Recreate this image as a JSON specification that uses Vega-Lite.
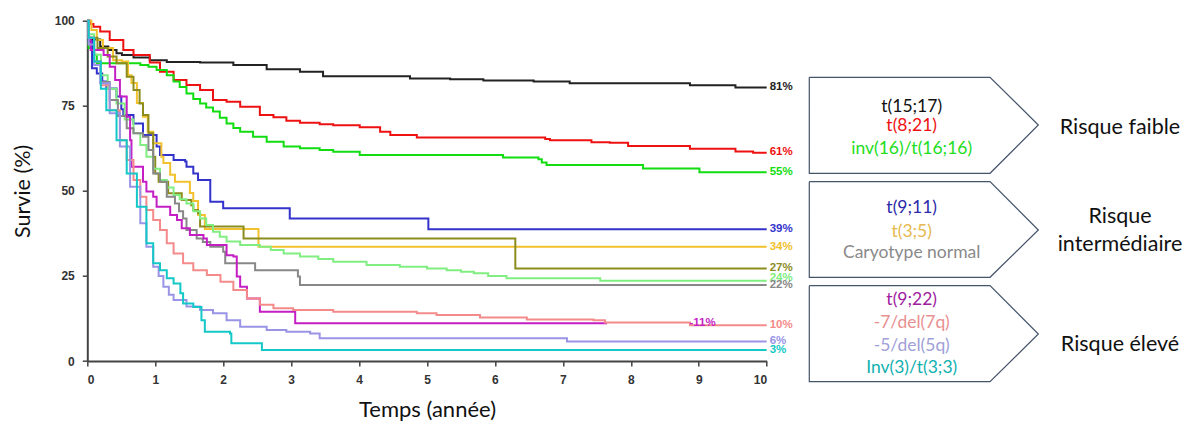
{
  "$schema": "https://vega.github.io/schema/vega-lite/v6.json",
  "width": 679.4,
  "height": 340.3,
  "autosize": "none",
  "padding": {"left": 87.3, "top": 20.7, "right": 425.3, "bottom": 62},
  "background": "white",
  "config": {"view": {"stroke": null}},
  "datasets": {
    "km": [
      {"g":"c1","t":0,"s":100},{"g":"c1","t":0.01,"s":94.5},{"g":"c1","t":0.19,"s":92.4},{"g":"c1","t":0.31,"s":91.4},{"g":"c1","t":0.43,"s":90.4},{"g":"c1","t":0.51,"s":89.9},{"g":"c1","t":0.68,"s":89.2},{"g":"c1","t":0.92,"s":88.4},{"g":"c1","t":1.17,"s":87.9},{"g":"c1","t":1.66,"s":87.7},{"g":"c1","t":2.15,"s":87.0},{"g":"c1","t":2.64,"s":85.7},{"g":"c1","t":3.13,"s":85.0},{"g":"c1","t":3.47,"s":83.7},{"g":"c1","t":4.75,"s":83.0},{"g":"c1","t":5.34,"s":82.8},{"g":"c1","t":5.83,"s":82.4},{"g":"c1","t":6.57,"s":82.1},{"g":"c1","t":7.1,"s":81.6},{"g":"c1","t":8.87,"s":81.0},{"g":"c1","t":9.54,"s":80.4},{"g":"c1","t":10,"s":80.4},
      {"g":"c2","t":0,"s":100},{"g":"c2","t":0.05,"s":99},{"g":"c2","t":0.09,"s":98.2},{"g":"c2","t":0.19,"s":96.8},{"g":"c2","t":0.33,"s":94.3},{"g":"c2","t":0.53,"s":91.4},{"g":"c2","t":0.68,"s":89.9},{"g":"c2","t":0.92,"s":87.7},{"g":"c2","t":1.07,"s":85.0},{"g":"c2","t":1.27,"s":82.6},{"g":"c2","t":1.46,"s":81.1},{"g":"c2","t":1.66,"s":79.6},{"g":"c2","t":1.85,"s":76.7},{"g":"c2","t":2.05,"s":76.2},{"g":"c2","t":2.25,"s":74.7},{"g":"c2","t":2.54,"s":72.3},{"g":"c2","t":2.74,"s":71.6},{"g":"c2","t":2.93,"s":70.6},{"g":"c2","t":3.13,"s":70.0},{"g":"c2","t":3.42,"s":69.6},{"g":"c2","t":3.62,"s":69.3},{"g":"c2","t":4.01,"s":68.7},{"g":"c2","t":4.31,"s":67.4},{"g":"c2","t":4.46,"s":66.4},{"g":"c2","t":4.85,"s":65.7},{"g":"c2","t":6.74,"s":65.2},{"g":"c2","t":6.81,"s":64.9},{"g":"c2","t":7.42,"s":64.3},{"g":"c2","t":7.69,"s":64.1},{"g":"c2","t":7.96,"s":63.2},{"g":"c2","t":8.87,"s":62.4},{"g":"c2","t":9.54,"s":61.6},{"g":"c2","t":9.8,"s":61.2},{"g":"c2","t":10,"s":61.2},
      {"g":"c3","t":0,"s":100},{"g":"c3","t":0.02,"s":92},{"g":"c3","t":0.1,"s":90},{"g":"c3","t":0.14,"s":87.5},{"g":"c3","t":0.78,"s":87},{"g":"c3","t":0.9,"s":86.5},{"g":"c3","t":1.02,"s":85.5},{"g":"c3","t":1.17,"s":84.0},{"g":"c3","t":1.27,"s":82.1},{"g":"c3","t":1.36,"s":80.5},{"g":"c3","t":1.46,"s":78.6},{"g":"c3","t":1.56,"s":77},{"g":"c3","t":1.66,"s":75.7},{"g":"c3","t":1.75,"s":74.5},{"g":"c3","t":1.85,"s":73.3},{"g":"c3","t":1.95,"s":71.5},{"g":"c3","t":2.05,"s":69.8},{"g":"c3","t":2.15,"s":68.5},{"g":"c3","t":2.25,"s":67.4},{"g":"c3","t":2.44,"s":65.9},{"g":"c3","t":2.64,"s":64.4},{"g":"c3","t":2.89,"s":63.0},{"g":"c3","t":3.13,"s":62.5},{"g":"c3","t":3.42,"s":62.0},{"g":"c3","t":3.62,"s":61.5},{"g":"c3","t":4.01,"s":60.5},{"g":"c3","t":6.12,"s":59.8},{"g":"c3","t":6.64,"s":59.3},{"g":"c3","t":6.69,"s":58.3},{"g":"c3","t":6.76,"s":57.6},{"g":"c3","t":8.18,"s":56.6},{"g":"c3","t":9.01,"s":55.5},{"g":"c3","t":10,"s":55.5},
      {"g":"c4","t":0,"s":100},{"g":"c4","t":0.02,"s":94},{"g":"c4","t":0.07,"s":86},{"g":"c4","t":0.14,"s":84.5},{"g":"c4","t":0.22,"s":82.1},{"g":"c4","t":0.28,"s":80.1},{"g":"c4","t":0.43,"s":77.7},{"g":"c4","t":0.5,"s":74},{"g":"c4","t":0.53,"s":72.3},{"g":"c4","t":0.68,"s":69.8},{"g":"c4","t":0.82,"s":66.4},{"g":"c4","t":1.02,"s":63.0},{"g":"c4","t":1.07,"s":60.5},{"g":"c4","t":1.27,"s":59.1},{"g":"c4","t":1.44,"s":58.6},{"g":"c4","t":1.46,"s":57.1},{"g":"c4","t":1.56,"s":55.1},{"g":"c4","t":1.63,"s":53.2},{"g":"c4","t":1.81,"s":46.8},{"g":"c4","t":2.0,"s":44.9},{"g":"c4","t":2.98,"s":41.9},{"g":"c4","t":5.02,"s":38.7},{"g":"c4","t":10,"s":38.7},
      {"g":"c5","t":0,"s":100},{"g":"c5","t":0.06,"s":97.3},{"g":"c5","t":0.14,"s":94.3},{"g":"c5","t":0.23,"s":92},{"g":"c5","t":0.38,"s":88.4},{"g":"c5","t":0.51,"s":88},{"g":"c5","t":0.6,"s":84},{"g":"c5","t":0.65,"s":81.7},{"g":"c5","t":0.73,"s":75.8},{"g":"c5","t":0.82,"s":71.8},{"g":"c5","t":0.89,"s":67.4},{"g":"c5","t":0.97,"s":64},{"g":"c5","t":1.09,"s":60},{"g":"c5","t":1.12,"s":58.2},{"g":"c5","t":1.22,"s":54.7},{"g":"c5","t":1.29,"s":52.7},{"g":"c5","t":1.51,"s":49.4},{"g":"c5","t":1.56,"s":47},{"g":"c5","t":1.63,"s":42.9},{"g":"c5","t":1.73,"s":38.8},{"g":"c5","t":2.52,"s":33.6},{"g":"c5","t":10,"s":33.6},
      {"g":"c6","t":0,"s":100},{"g":"c6","t":0.02,"s":95},{"g":"c6","t":0.15,"s":92},{"g":"c6","t":0.3,"s":89.5},{"g":"c6","t":0.43,"s":87.5},{"g":"c6","t":0.58,"s":83.5},{"g":"c6","t":0.68,"s":79.6},{"g":"c6","t":0.77,"s":75.7},{"g":"c6","t":0.82,"s":72.3},{"g":"c6","t":0.9,"s":66.9},{"g":"c6","t":0.97,"s":60.0},{"g":"c6","t":1.0,"s":55.1},{"g":"c6","t":1.05,"s":52.7},{"g":"c6","t":1.19,"s":49.3},{"g":"c6","t":1.39,"s":47.3},{"g":"c6","t":1.53,"s":45.8},{"g":"c6","t":1.56,"s":44.4},{"g":"c6","t":1.63,"s":43.4},{"g":"c6","t":1.66,"s":39.5},{"g":"c6","t":2.3,"s":36.0},{"g":"c6","t":6.3,"s":27.2},{"g":"c6","t":10,"s":27.2},
      {"g":"c7","t":0,"s":100},{"g":"c7","t":0.02,"s":96},{"g":"c7","t":0.1,"s":90},{"g":"c7","t":0.2,"s":84},{"g":"c7","t":0.3,"s":80},{"g":"c7","t":0.43,"s":75.7},{"g":"c7","t":0.55,"s":71},{"g":"c7","t":0.68,"s":66.9},{"g":"c7","t":0.78,"s":63.5},{"g":"c7","t":0.87,"s":60.0},{"g":"c7","t":0.97,"s":56.5},{"g":"c7","t":1.07,"s":53.2},{"g":"c7","t":1.17,"s":51},{"g":"c7","t":1.27,"s":48.8},{"g":"c7","t":1.36,"s":47.5},{"g":"c7","t":1.46,"s":46.3},{"g":"c7","t":1.56,"s":44},{"g":"c7","t":1.66,"s":41.9},{"g":"c7","t":1.75,"s":40},{"g":"c7","t":1.85,"s":38.0},{"g":"c7","t":1.95,"s":36.5},{"g":"c7","t":2.05,"s":35.1},{"g":"c7","t":2.25,"s":34.1},{"g":"c7","t":2.54,"s":33.6},{"g":"c7","t":2.7,"s":32.6},{"g":"c7","t":2.89,"s":31.6},{"g":"c7","t":3.13,"s":30.7},{"g":"c7","t":3.4,"s":30},{"g":"c7","t":3.62,"s":29.2},{"g":"c7","t":4.11,"s":28.2},{"g":"c7","t":4.6,"s":27.7},{"g":"c7","t":5.0,"s":27.2},{"g":"c7","t":5.29,"s":26.7},{"g":"c7","t":5.5,"s":26.2},{"g":"c7","t":5.69,"s":25.8},{"g":"c7","t":5.9,"s":25},{"g":"c7","t":6.17,"s":24.3},{"g":"c7","t":7.55,"s":23.6},{"g":"c7","t":10,"s":23.6},
      {"g":"c8","t":0,"s":100},{"g":"c8","t":0.02,"s":95},{"g":"c8","t":0.1,"s":88},{"g":"c8","t":0.2,"s":82},{"g":"c8","t":0.33,"s":76.7},{"g":"c8","t":0.45,"s":72},{"g":"c8","t":0.58,"s":68.4},{"g":"c8","t":0.68,"s":66.9},{"g":"c8","t":0.82,"s":65.9},{"g":"c8","t":0.9,"s":62},{"g":"c8","t":0.97,"s":55.1},{"g":"c8","t":1.07,"s":52.7},{"g":"c8","t":1.17,"s":48.3},{"g":"c8","t":1.29,"s":46.3},{"g":"c8","t":1.35,"s":44},{"g":"c8","t":1.41,"s":41.9},{"g":"c8","t":1.46,"s":38.5},{"g":"c8","t":1.61,"s":36},{"g":"c8","t":1.7,"s":35},{"g":"c8","t":1.81,"s":33.6},{"g":"c8","t":2.0,"s":32.1},{"g":"c8","t":2.03,"s":28.7},{"g":"c8","t":2.47,"s":26.7},{"g":"c8","t":3.1,"s":24.8},{"g":"c8","t":3.13,"s":22.3},{"g":"c8","t":10,"s":22.3},
      {"g":"c9","t":0,"s":100},{"g":"c9","t":0.02,"s":95},{"g":"c9","t":0.05,"s":91.4},{"g":"c9","t":0.24,"s":89.9},{"g":"c9","t":0.33,"s":86.5},{"g":"c9","t":0.41,"s":82.6},{"g":"c9","t":0.48,"s":77.7},{"g":"c9","t":0.58,"s":71.8},{"g":"c9","t":0.63,"s":64.9},{"g":"c9","t":0.65,"s":57.1},{"g":"c9","t":0.82,"s":52.7},{"g":"c9","t":0.87,"s":49.8},{"g":"c9","t":0.97,"s":48.3},{"g":"c9","t":1.02,"s":45.3},{"g":"c9","t":1.22,"s":42.9},{"g":"c9","t":1.32,"s":41.4},{"g":"c9","t":1.39,"s":39.0},{"g":"c9","t":1.51,"s":37.0},{"g":"c9","t":1.71,"s":36.0},{"g":"c9","t":1.76,"s":34.1},{"g":"c9","t":2.05,"s":31.1},{"g":"c9","t":2.15,"s":30.7},{"g":"c9","t":2.2,"s":24.8},{"g":"c9","t":2.25,"s":21.8},{"g":"c9","t":2.35,"s":18.4},{"g":"c9","t":2.54,"s":14.5},{"g":"c9","t":3.06,"s":11.1},{"g":"c9","t":7.65,"s":11.1},
      {"g":"c10","t":0,"s":100},{"g":"c10","t":0.02,"s":95},{"g":"c10","t":0.1,"s":88},{"g":"c10","t":0.2,"s":81},{"g":"c10","t":0.33,"s":73.7},{"g":"c10","t":0.48,"s":64.9},{"g":"c10","t":0.58,"s":59.1},{"g":"c10","t":0.68,"s":53.2},{"g":"c10","t":0.78,"s":48.3},{"g":"c10","t":0.87,"s":44.4},{"g":"c10","t":0.97,"s":41.4},{"g":"c10","t":1.07,"s":38.5},{"g":"c10","t":1.17,"s":34.6},{"g":"c10","t":1.27,"s":31.6},{"g":"c10","t":1.41,"s":28.7},{"g":"c10","t":1.56,"s":26.7},{"g":"c10","t":1.76,"s":25.3},{"g":"c10","t":1.96,"s":23.3},{"g":"c10","t":2.15,"s":20.9},{"g":"c10","t":2.35,"s":18.4},{"g":"c10","t":2.54,"s":16.5},{"g":"c10","t":2.74,"s":15.5},{"g":"c10","t":3.03,"s":15.0},{"g":"c10","t":3.62,"s":14.5},{"g":"c10","t":4.85,"s":14.0},{"g":"c10","t":5.14,"s":13.5},{"g":"c10","t":5.78,"s":12.8},{"g":"c10","t":6.47,"s":12.2},{"g":"c10","t":7.45,"s":12.0},{"g":"c10","t":7.62,"s":11.3},{"g":"c10","t":8.87,"s":10.5},{"g":"c10","t":10,"s":10.5},
      {"g":"c11","t":0,"s":100},{"g":"c11","t":0.02,"s":93},{"g":"c11","t":0.1,"s":87},{"g":"c11","t":0.19,"s":81.6},{"g":"c11","t":0.33,"s":72.8},{"g":"c11","t":0.48,"s":63.0},{"g":"c11","t":0.63,"s":51.2},{"g":"c11","t":0.78,"s":40.5},{"g":"c11","t":0.87,"s":33.6},{"g":"c11","t":0.97,"s":27.7},{"g":"c11","t":1.05,"s":25},{"g":"c11","t":1.12,"s":21.8},{"g":"c11","t":1.2,"s":19.5},{"g":"c11","t":1.27,"s":17.9},{"g":"c11","t":1.46,"s":16.0},{"g":"c11","t":1.66,"s":15.0},{"g":"c11","t":1.85,"s":14.0},{"g":"c11","t":2.05,"s":12.0},{"g":"c11","t":2.25,"s":10.1},{"g":"c11","t":2.64,"s":9.1},{"g":"c11","t":2.93,"s":8.6},{"g":"c11","t":3.28,"s":8.1},{"g":"c11","t":3.42,"s":6.7},{"g":"c11","t":7.06,"s":5.7},{"g":"c11","t":10,"s":5.7},
      {"g":"c12","t":0,"s":100},{"g":"c12","t":0.02,"s":95},{"g":"c12","t":0.1,"s":88},{"g":"c12","t":0.2,"s":80},{"g":"c12","t":0.28,"s":73.7},{"g":"c12","t":0.43,"s":64.9},{"g":"c12","t":0.58,"s":55.1},{"g":"c12","t":0.73,"s":45.3},{"g":"c12","t":0.87,"s":34.6},{"g":"c12","t":0.97,"s":28.7},{"g":"c12","t":1.07,"s":26.7},{"g":"c12","t":1.17,"s":24.3},{"g":"c12","t":1.27,"s":22.8},{"g":"c12","t":1.37,"s":19.9},{"g":"c12","t":1.41,"s":16.9},{"g":"c12","t":1.56,"s":15.9},{"g":"c12","t":1.68,"s":12.0},{"g":"c12","t":1.73,"s":8.6},{"g":"c12","t":2.1,"s":8.1},{"g":"c12","t":2.12,"s":5.2},{"g":"c12","t":2.57,"s":3.2},{"g":"c12","t":10,"s":3.2}
    ],
    "ends": [
      {"g":"c1","t":10,"s":80.4,"label":"81%"},
      {"g":"c2","t":10,"s":61.3,"label":"61%"},
      {"g":"c3","t":10,"s":55.4,"label":"55%"},
      {"g":"c4","t":10,"s":38.7,"label":"39%"},
      {"g":"c5","t":10,"s":33.6,"label":"34%"},
      {"g":"c6","t":10,"s":27.2,"label":"27%"},
      {"g":"c7","t":10,"s":24.3,"label":"24%"},
      {"g":"c8","t":10,"s":22.4,"label":"22%"},
      {"g":"c9","t":8.82,"s":11.3,"label":"-11%"},
      {"g":"c10","t":10,"s":10.6,"label":"10%"},
      {"g":"c11","t":10,"s":6.0,"label":"6%"},
      {"g":"c12","t":10,"s":3.2,"label":"3%"}
    ],
    "box": [
      {"b":1,"o":0,"x":106.27,"y":16.63},{"b":1,"o":1,"x":132.87,"y":16.63},{"b":1,"o":2,"x":139.98,"y":30.65},{"b":1,"o":3,"x":132.87,"y":44.84},{"b":1,"o":4,"x":106.27,"y":44.84},{"b":1,"o":5,"x":106.27,"y":16.63},
      {"b":2,"o":0,"x":106.27,"y":47.31},{"b":2,"o":1,"x":132.87,"y":47.31},{"b":2,"o":2,"x":139.98,"y":61.5},{"b":2,"o":3,"x":132.87,"y":75.4},{"b":2,"o":4,"x":106.27,"y":75.4},{"b":2,"o":5,"x":106.27,"y":47.31},
      {"b":3,"o":0,"x":106.27,"y":77.87},{"b":3,"o":1,"x":132.87,"y":77.87},{"b":3,"o":2,"x":139.98,"y":92.07},{"b":3,"o":3,"x":132.87,"y":106.08},{"b":3,"o":4,"x":106.27,"y":106.08},{"b":3,"o":5,"x":106.27,"y":77.87}
    ],
    "items": [
      {"item":"t(15;17)","x":121.34,"y":25.27},
      {"item":"t(8;21)","x":121.34,"y":30.86},
      {"item":"inv(16)/t(16;16)","x":121.34,"y":37.7},
      {"item":"t(9;11)","x":121.34,"y":55.13},
      {"item":"t(3;5)","x":121.34,"y":62.0},
      {"item":"Caryotype normal","x":121.34,"y":68.35},
      {"item":"t(9;22)","x":121.34,"y":82.07},
      {"item":"-7/del(7q)","x":121.34,"y":88.92},
      {"item":"-5/del(5q)","x":121.34,"y":95.59},
      {"item":"Inv(3)/t(3;3)","x":121.34,"y":102.15}
    ],
    "risk": [
      {"r":"Risque faible","x":152.0,"y":31.62},
      {"r":"Risque","x":152.0,"y":57.6},
      {"r":"intermédiaire","x":152.0,"y":65.92},
      {"r":"Risque élevé","x":152.0,"y":95.3}
    ]
  },
  "resolve": {"scale": {"x": "independent", "y": "independent", "color": "independent"}},
  "layer": [
    {
      "layer": [
        {
          "data": {"name": "km"},
          "mark": {"type": "line", "interpolate": "step-after", "strokeWidth": 2},
          "encoding": {
            "x": {"field": "t", "type": "quantitative",
              "scale": {"domain": [0, 10], "nice": false, "zero": false},
              "axis": {"title": "Temps (année)", "values": [0,1,2,3,4,5,6,7,8,9,10], "format": "d", "grid": false,
                "titleFont": "Lato", "titleFontSize": 22, "titleFontWeight": "normal", "titleColor": "#111", "titlePadding": 14,
                "labelFont": "Liberation Sans", "labelFontWeight": "bold", "labelFontSize": 12, "labelColor": "#333", "labelPadding": 8,
                "domainColor": "#444", "domainWidth": 2, "tickColor": "#444", "tickWidth": 1.5, "tickSize": 5}},
            "y": {"field": "s", "type": "quantitative",
              "scale": {"domain": [0, 100], "nice": false},
              "axis": {"title": "Survie (%)", "values": [0,25,50,75,100], "grid": false,
                "titleFont": "Lato", "titleFontSize": 21.5, "titleFontWeight": "normal", "titleColor": "#111", "titlePadding": 20,
                "labelFont": "Liberation Sans", "labelFontWeight": "bold", "labelFontSize": 12, "labelColor": "#333", "labelPadding": 8,
                "domainColor": "#444", "domainWidth": 2, "tickColor": "#444", "tickWidth": 1.5, "tickSize": 5}},
            "color": {"field": "g", "type": "nominal", "legend": null,
              "scale": {"domain": ["c1","c2","c3","c4","c5","c6","c7","c8","c9","c10","c11","c12"],
                "range": ["#222222","#ee1111","#11dd11","#3333cc","#f2c12e","#8c8c1e","#80ee80","#888888","#c41fc4","#f48a8a","#9a94e6","#14c8c8"]}},
            "detail": {"field": "g"}
          }
        },
        {
          "data": {"name": "ends"},
          "mark": {"type": "text", "align": "left", "baseline": "middle", "dx": 3, "font": "Liberation Sans", "fontWeight": "bold", "fontSize": 11.5},
          "encoding": {
            "x": {"field": "t", "type": "quantitative", "scale": {"domain": [0, 10], "nice": false, "zero": false}},
            "y": {"field": "s", "type": "quantitative", "scale": {"domain": [0, 100], "nice": false}},
            "text": {"field": "label"},
            "color": {"field": "g", "type": "nominal", "legend": null,
              "scale": {"domain": ["c1","c2","c3","c4","c5","c6","c7","c8","c9","c10","c11","c12"],
                "range": ["#222222","#ee1111","#11dd11","#3333cc","#f2c12e","#8c8c1e","#80ee80","#888888","#c41fc4","#f48a8a","#9a94e6","#14c8c8"]}}
          }
        }
      ]
    },
    {
      "layer": [
        {
          "data": {"name": "box"},
          "mark": {"type": "line", "stroke": "#44546a", "strokeWidth": 1.2, "interpolate": "linear"},
          "encoding": {
            "x": {"field": "x", "type": "quantitative", "axis": null, "scale": {"domain": [0, 100], "nice": false, "zero": false}},
            "y": {"field": "y", "type": "quantitative", "axis": null, "scale": {"domain": [0, 100], "nice": false, "zero": false, "reverse": true}},
            "detail": {"field": "b"},
            "order": {"field": "o"}
          }
        },
        {
          "data": {"name": "items"},
          "mark": {"type": "text", "align": "center", "baseline": "middle", "font": "Lato", "fontSize": 17.5},
          "encoding": {
            "x": {"field": "x", "type": "quantitative", "axis": null, "scale": {"domain": [0, 100], "nice": false, "zero": false}},
            "y": {"field": "y", "type": "quantitative", "axis": null, "scale": {"domain": [0, 100], "nice": false, "zero": false, "reverse": true}},
            "text": {"field": "item"},
            "color": {"field": "item", "type": "nominal", "legend": null,
              "scale": {"domain": ["t(15;17)","t(8;21)","inv(16)/t(16;16)","t(9;11)","t(3;5)","Caryotype normal","t(9;22)","-7/del(7q)","-5/del(5q)","Inv(3)/t(3;3)"],
                "range": ["#111111","#ee1111","#22dd22","#2a2aaa","#e6b84e","#8a8a8a","#a020a0","#e89090","#a0a0d8","#10b0b0"]}}
          }
        },
        {
          "data": {"name": "risk"},
          "mark": {"type": "text", "align": "center", "baseline": "middle", "font": "Lato", "fontSize": 21.5, "color": "#111111"},
          "encoding": {
            "x": {"field": "x", "type": "quantitative", "axis": null, "scale": {"domain": [0, 100], "nice": false, "zero": false}},
            "y": {"field": "y", "type": "quantitative", "axis": null, "scale": {"domain": [0, 100], "nice": false, "zero": false, "reverse": true}},
            "text": {"field": "r"}
          }
        }
      ]
    }
  ]
}
